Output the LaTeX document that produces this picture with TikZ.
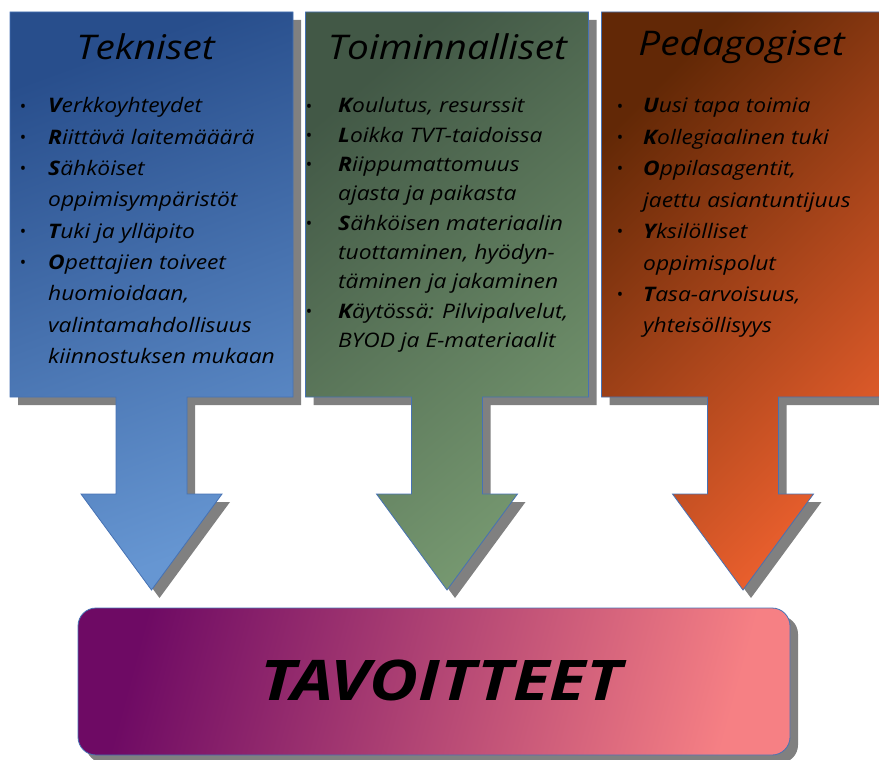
\documentclass[tikz,border=0pt]{standalone}
\usepackage{fontspec}
\setmainfont{Open Sans}
\newfontfamily\hand{Open Sans}[FakeStretch=1.14]
\newfontfamily\handwide{Open Sans}[FakeStretch=1.2]
\definecolor{blueA}{RGB}{40,78,140}
\definecolor{blueB}{RGB}{102,150,210}
\definecolor{greenA}{RGB}{66,88,70}
\definecolor{greenB}{RGB}{118,152,112}
\definecolor{orangeA}{RGB}{98,40,6}
\definecolor{orangeB}{RGB}{236,96,46}
\definecolor{purpA}{RGB}{110,10,100}
\definecolor{purpB}{RGB}{246,128,132}
\definecolor{shd}{RGB}{128,128,128}
\definecolor{outl}{RGB}{70,114,180}
\newcommand\calloutpath[1]{({#1-141.5},12) -- ({#1+141.5},12) -- ({#1+141.5},397) -- ({#1+35.5},397) -- ({#1+35.5},494) -- ({#1+70.5},494) -- (#1,590) -- ({#1-70.5},494) -- ({#1-35.5},494) -- ({#1-35.5},397) -- ({#1-141.5},397) -- cycle}
\begin{document}
\begin{tikzpicture}[x=1pt,y=-1pt,
  txt/.style={font=\hand\fontsize{20}{20}\selectfont\itshape, anchor=west, inner sep=0pt, text height=14pt, text depth=4pt},
  bul/.style={font=\fontsize{17}{17}\selectfont, anchor=center, inner sep=0pt},
  ttl/.style={font=\hand\fontsize{34}{34}\selectfont\itshape, inner sep=0pt},
  goal/.style={font=\handwide\fontsize{56}{56}\selectfont\bfseries\itshape, inner sep=0pt},
  edgeline/.style={draw=outl, line width=0.8pt},
  shadowfill/.style={fill=shd}]
\useasboundingbox (0,0) rectangle (879,760);
% shadows
\fill[shadowfill, shift={(8,8)}] \calloutpath{151.5};
\fill[shadowfill, shift={(8,8)}] \calloutpath{447};
\fill[shadowfill, shift={(8,8)}] \calloutpath{743};
\fill[shadowfill, rounded corners=18pt] (86,616) rectangle (798,763);
% callouts
\shade[top color=blueA, bottom color=blueB, shading angle=20] \calloutpath{151.5};
\draw[edgeline] \calloutpath{151.5};
\shade[top color=greenA, bottom color=greenB, shading angle=40] \calloutpath{447};
\draw[edgeline] \calloutpath{447};
\shade[top color=orangeA, bottom color=orangeB, shading angle=45] \calloutpath{743};
\draw[edgeline] \calloutpath{743};
% goal box
\shade[top color=purpA, bottom color=purpB, shading angle=75, rounded corners=18pt] (78,608) rectangle (790,755);
\draw[edgeline, rounded corners=18pt] (78,608) rectangle (790,755);
% titles
\node[ttl] (t1) at (145.5,47) {Tekniset};
\node[ttl] (t2) at (447.5,47) {Toiminnalliset};
\node[ttl] (t3) at (741.5,47) {Pedagogiset};
% blue column
\foreach \i/\b/\t [count=\n] in {0/1/\textbf{V}erkkoyhteydet, 1/1/\textbf{R}iittävä laitemääärä, 2/1/\textbf{S}ähköiset, 3/0/oppimisympäristöt, 4/1/\textbf{T}uki ja ylläpito, 5/1/\textbf{O}pettajien toiveet, 6/0/{huomioidaan,}, 7/0/valintamahdollisuus, 8/0/kiinnostuksen mukaan}{
  \node[txt] (a\n) at (48,{108+31.3*\i}) {\t};
  \ifnum\b=1 \node[bul] (ab\n) at (23,{108+31.3*\i}) {•};\fi
}
% green column
\foreach \i/\b/\t [count=\n] in {0/1/{\textbf{K}oulutus, resurssit}, 1/1/\textbf{L}oikka TVT-taidoissa, 2/1/\textbf{R}iippumattomuus, 3/0/ajasta ja paikasta, 4/1/\textbf{S}ähköisen materiaalin, 5/0/{tuottaminen, hyödyn-}, 6/0/täminen ja jakaminen, 7/1/{\textbf{K}äytössä: Pilvipalvelut,}, 8/0/BYOD ja E-materiaalit}{
  \node[txt] (g\n) at (338,{108+29.3*\i}) {\t};
  \ifnum\b=1 \node[bul] (gb\n) at (309,{108+29.3*\i}) {•};\fi
}
% orange column
\foreach \i/\b/\t [count=\n] in {0/1/\textbf{U}usi tapa toimia, 1/1/\textbf{K}ollegiaalinen tuki, 2/1/{\textbf{O}ppilasagentit,}, 3/0/jaettu asiantuntijuus, 4/1/\textbf{Y}ksilölliset, 5/0/oppimispolut, 6/1/{\textbf{T}asa-arvoisuus,}, 7/0/yhteisöllisyys}{
  \node[txt] (o\n) at (643,{108+31.4*\i}) {\t};
  \ifnum\b=1 \node[bul] (ob\n) at (620,{108+31.4*\i}) {•};\fi
}
\node[goal] (goal) at (441,680) {TAVOITTEET};
\end{tikzpicture}
\end{document}
